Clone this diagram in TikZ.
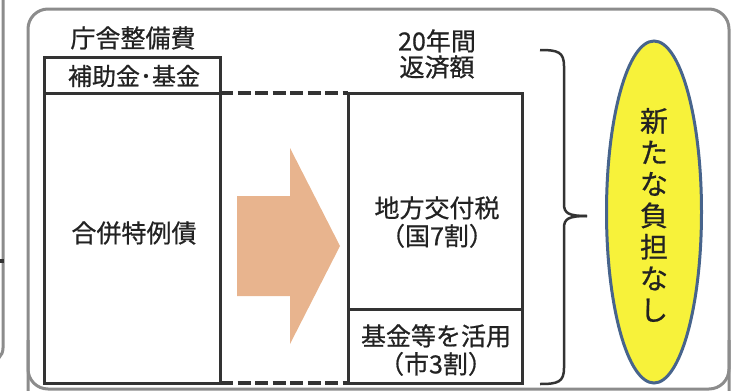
\documentclass[tikz,border=0pt]{standalone}
\usepackage{fontspec}
\setmainfont{Noto Sans CJK JP}[FakeBold=0.7]
\usetikzlibrary{shapes.geometric}
\definecolor{framegray}{HTML}{8C8C8C}
\definecolor{boxline}{HTML}{333333}
\definecolor{txt}{HTML}{222222}
\definecolor{arrowtan}{HTML}{E8B48E}
\definecolor{ovalfill}{HTML}{F7F23A}
\definecolor{ovalline}{HTML}{47648C}
\tikzset{
  boxstyle/.style={draw=boxline,line width=3pt},
  dashline/.style={draw=boxline,line width=4pt,dash pattern=on 13pt off 4.5pt},
  lbl/.style={text=txt,font=\fontsize{25}{28}\selectfont,inner sep=0pt,align=center},
  frm/.style={draw=framegray,line width=3pt,rounded corners=20pt},
}
\begin{document}
\begin{tikzpicture}[x=1pt,y=-1pt]
\useasboundingbox (0,0) rectangle (734,391);
% partial frame at left edge
\draw[draw=framegray,line width=3pt,rounded corners=14pt] (3,-5) -- (3,362) -- (-20,362);
\fill[boxline] (0,259) rectangle (4,263);
% main frame
\draw[frm] (28,410) -- (28,9) -- (729,9) -- (729,410);
\draw[frm] (28,340) -- (28,389) -- (729,389) -- (729,340);
% left box
\draw[boxstyle] (44,57) rectangle (220,383);
\draw[boxstyle] (44,93) -- (220,93);
\coordinate (L-tr) at (220,93);
\coordinate (L-br) at (220,383);
\node[lbl] (title1) at (133,38) {庁舎整備費};
\node[lbl,font=\fontsize{24}{27}\selectfont] (hojo) at (134,76) {補助金･基金};
\node[lbl] (gappei) at (134,233) {合併特例債};
% right box
\draw[boxstyle] (348,93) rectangle (522,383);
\draw[boxstyle] (348,309) -- (522,309);
\coordinate (R-tl) at (348,93);
\coordinate (R-bl) at (348,383);
\node[lbl] (title2) at (437,54) {20年間\\[-2pt]返済額};
\node[lbl] (chiho) at (437,222) {地方交付税\\[0pt]（国7割）};
\node[lbl] (kikin) at (436,350) {基金等を活用\\[0pt]（市3割）};
% dashed connectors
\draw[dashline] (L-tr) -- (R-tl);
\draw[dashline] (L-br) -- (R-bl);
% block arrow
\fill[arrowtan] (237,196) -- (290,196) -- (290,148) -- (340,246) -- (290,344) -- (290,296) -- (237,296) -- cycle;
% brace
\coordinate (b-top) at (540,50);
\coordinate (b-tip) at (587,216);
\coordinate (b-bot) at (540,384);
\draw[draw=boxline,line width=2.5pt] (b-top) .. controls (558,50) and (564,52) .. (564,66) -- (564,204) .. controls (564,213) and (568,216) .. (b-tip);
\draw[draw=boxline,line width=2.5pt] (b-bot) .. controls (558,384) and (564,382) .. (564,368) -- (564,228) .. controls (564,219) and (568,216) .. (b-tip);
% oval
\node[ellipse,draw=ovalline,fill=ovalfill,line width=3pt,minimum width=95pt,minimum height=342pt,inner sep=0pt] (oval) at (654,212) {};
\node[lbl,font=\fontsize{28}{31.5}\selectfont] (vtext) at (654,215) {新\\た\\な\\負\\担\\な\\し};
\end{tikzpicture}
\end{document}
